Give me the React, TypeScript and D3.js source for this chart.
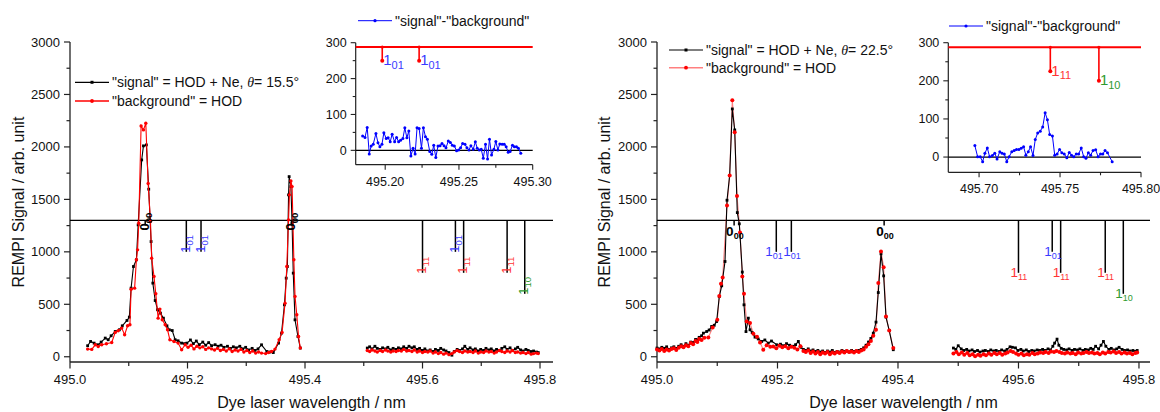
import React from "react";
import * as d3 from "d3";

type Pt = [number, number];

const FONT = "'Liberation Sans', Arial, Helvetica, sans-serif";

// ---------------- Left panel (theta = 15.5°) ----------------
const leftSignalPeaks: Pt[] = [[495.030,105],[495.035,146],[495.041,130],[495.048,114],[495.053,140],[495.060,178],[495.065,162],[495.070,200],[495.077,241],[495.084,257],[495.089,295],[495.097,346],[495.101,378],[495.104,654],[495.108,860],[495.113,924],[495.116,1257],[495.122,1876],[495.125,2010],[495.130,2019],[495.134,1597],[495.138,1098],[495.141,702],[495.145,536],[495.149,448],[495.154,416],[495.159,368],[495.165,295],[495.169,257],[495.174,250],[495.179,162],[495.184,152],[495.190,130],[495.195,125],[495.199,130],[495.205,160],[495.210,125],[495.215,150],[495.220,115],[495.226,140],[495.231,110],[495.236,135],[495.241,105],[495.247,115],[495.252,100],[495.257,110],[495.262,90],[495.268,100],[495.273,80],[495.278,95],[495.283,85],[495.289,100],[495.294,75],[495.299,90],[495.304,65],[495.310,80],[495.315,60],[495.320,75],[495.326,114],[495.335,50],[495.340,45],[495.346,40],[495.355,130],[495.360,225],[495.365,495],[495.368,749],[495.370,860],[495.372,1543],[495.373,1717],[495.376,1622],[495.378,1273],[495.380,797],[495.383,352],[495.388,193],[495.392,83]];
const leftSignalTail: Pt[] = [[495.506,83],[495.510,95],[495.514,75],[495.519,100],[495.523,80],[495.528,70],[495.532,85],[495.537,75],[495.541,90],[495.546,65],[495.550,80],[495.555,70],[495.559,85],[495.564,75],[495.568,95],[495.573,80],[495.577,100],[495.582,85],[495.586,95],[495.591,70],[495.595,80],[495.600,60],[495.604,75],[495.609,55],[495.613,65],[495.618,50],[495.622,70],[495.627,60],[495.631,80],[495.636,65],[495.640,55],[495.645,40],[495.650,15],[495.654,50],[495.659,70],[495.663,60],[495.668,75],[495.672,100],[495.677,70],[495.681,85],[495.686,65],[495.690,75],[495.695,55],[495.699,70],[495.704,60],[495.708,80],[495.713,65],[495.717,75],[495.722,55],[495.726,70],[495.731,60],[495.735,80],[495.740,95],[495.744,70],[495.749,85],[495.753,60],[495.758,75],[495.762,90],[495.767,65],[495.771,55],[495.776,70],[495.780,60],[495.785,50],[495.789,55],[495.794,45],[495.797,40]];
const leftBackgroundPeaks: Pt[] = [[495.030,73],[495.037,70],[495.043,114],[495.048,98],[495.054,114],[495.062,124],[495.071,136],[495.077,232],[495.082,248],[495.088,273],[495.093,210],[495.098,295],[495.102,305],[495.104,644],[495.110,654],[495.113,924],[495.115,1019],[495.117,1273],[495.121,2200],[495.125,2162],[495.129,2225],[495.133,1651],[495.137,1289],[495.139,940],[495.143,765],[495.146,600],[495.150,368],[495.153,454],[495.157,352],[495.162,305],[495.166,257],[495.170,162],[495.177,146],[495.184,130],[495.190,67],[495.196,114],[495.201,90],[495.206,110],[495.211,75],[495.216,100],[495.221,85],[495.226,95],[495.231,70],[495.236,85],[495.241,75],[495.246,65],[495.251,80],[495.256,60],[495.261,70],[495.266,55],[495.271,75],[495.276,50],[495.281,65],[495.286,55],[495.291,70],[495.296,45],[495.301,60],[495.306,40],[495.311,55],[495.316,35],[495.321,45],[495.326,35],[495.333,30],[495.338,40],[495.343,50],[495.349,73],[495.356,162],[495.361,232],[495.366,511],[495.369,860],[495.372,1305],[495.3735,1543],[495.376,1676],[495.378,1622],[495.381,924],[495.383,575],[495.386,400],[495.389,193],[495.392,83]];
const leftBackgroundTail: Pt[] = [[495.506,60],[495.510,50],[495.514,65],[495.519,55],[495.523,45],[495.528,60],[495.532,50],[495.537,65],[495.541,55],[495.546,45],[495.550,55],[495.555,50],[495.559,60],[495.564,55],[495.568,70],[495.573,55],[495.577,60],[495.582,50],[495.586,65],[495.591,45],[495.595,55],[495.600,40],[495.604,50],[495.609,45],[495.613,55],[495.618,35],[495.622,45],[495.627,30],[495.631,40],[495.636,25],[495.640,35],[495.645,20],[495.650,30],[495.654,45],[495.659,60],[495.663,50],[495.668,40],[495.672,55],[495.677,45],[495.681,50],[495.686,40],[495.690,55],[495.695,35],[495.699,45],[495.704,40],[495.708,55],[495.713,45],[495.717,50],[495.722,35],[495.726,45],[495.731,60],[495.735,50],[495.740,40],[495.744,55],[495.749,45],[495.753,60],[495.758,40],[495.762,45],[495.767,35],[495.771,40],[495.776,30],[495.780,40],[495.785,25],[495.789,30],[495.794,35],[495.797,30]];
const leftDifference: Pt[] = [[495.1847,40],[495.1863,36],[495.1878,64],[495.1892,-10],[495.1905,12],[495.1919,17],[495.1937,47],[495.1951,21],[495.1964,10],[495.1978,17],[495.1991,49],[495.2007,33],[495.2020,35],[495.2034,24],[495.2047,45],[495.2064,24],[495.2077,36],[495.2091,24],[495.2104,28],[495.2120,33],[495.2133,63],[495.2147,35],[495.2160,54],[495.2174,-16],[495.2189,6],[495.2203,-10],[495.2216,63],[495.2230,61],[495.2246,6],[495.2259,63],[495.2273,38],[495.2286,31],[495.2302,-3],[495.2316,-11],[495.2329,14],[495.2343,-20],[495.2358,12],[495.2372,13],[495.2385,19],[495.2399,13],[495.2412,7],[495.2428,26],[495.2442,22],[495.2455,14],[495.2469,12],[495.2484,-1],[495.2498,1],[495.2511,7],[495.2525,19],[495.2541,17],[495.2554,7],[495.2568,1],[495.2581,13],[495.2597,3],[495.2611,24],[495.2624,6],[495.2638,1],[495.2651,3],[495.2665,-22],[495.2680,17],[495.2694,-24],[495.2707,31],[495.2721,-13],[495.2737,3],[495.2750,25],[495.2764,1],[495.2777,18],[495.2793,17],[495.2807,17],[495.2820,10],[495.2834,-5],[495.2847,-3],[495.2863,14],[495.2876,10],[495.2890,10],[495.2903,6],[495.2919,-8]];

// ---------------- Right panel (theta = 22.5°) ----------------
const rightSignalPeaks: Pt[] = [[495.000,83],[495.004,75],[495.008,90],[495.012,80],[495.016,95],[495.020,70],[495.024,85],[495.028,95],[495.032,80],[495.036,100],[495.040,115],[495.044,100],[495.048,125],[495.052,110],[495.056,140],[495.060,135],[495.064,165],[495.067,160],[495.070,185],[495.074,200],[495.077,225],[495.0825,241],[495.0865,255],[495.0907,289],[495.095,300],[495.099,336],[495.1034,574],[495.1074,676],[495.1129,908],[495.1162,1492],[495.1206,1727],[495.125,2362],[495.129,2162],[495.1333,1374],[495.1366,1267],[495.1416,807],[495.1444,495],[495.1477,240],[495.1516,368],[495.1544,257],[495.158,230],[495.1627,187],[495.168,170],[495.1738,146],[495.179,160],[495.1847,130],[495.190,150],[495.1987,114],[495.205,120],[495.210,105],[495.215,125],[495.220,110],[495.225,100],[495.230,115],[495.2346,146],[495.239,90],[495.243,70],[495.247,60],[495.251,75],[495.255,55],[495.259,65],[495.263,50],[495.267,60],[495.271,45],[495.275,55],[495.279,40],[495.283,55],[495.287,45],[495.291,60],[495.295,40],[495.299,50],[495.303,45],[495.307,60],[495.311,50],[495.315,55],[495.319,45],[495.323,60],[495.327,50],[495.331,55],[495.335,60],[495.339,70],[495.343,85],[495.347,110],[495.351,140],[495.355,175],[495.359,225],[495.3635,330],[495.3673,612],[495.3718,981],[495.3762,771],[495.3801,378],[495.3855,250],[495.3922,67]];
const rightSignalTail: Pt[] = [[495.492,83],[495.496,70],[495.500,105],[495.505,75],[495.509,60],[495.514,70],[495.518,55],[495.523,65],[495.527,50],[495.532,60],[495.536,45],[495.541,55],[495.545,60],[495.550,50],[495.554,65],[495.559,55],[495.563,60],[495.568,50],[495.572,65],[495.577,55],[495.581,70],[495.586,95],[495.590,90],[495.595,85],[495.599,60],[495.604,70],[495.608,55],[495.613,65],[495.617,50],[495.622,60],[495.626,55],[495.631,65],[495.635,60],[495.640,70],[495.644,60],[495.649,75],[495.653,65],[495.657,100],[495.660,130],[495.664,168],[495.667,110],[495.671,80],[495.675,70],[495.680,65],[495.684,75],[495.689,60],[495.693,70],[495.698,65],[495.702,75],[495.707,60],[495.711,70],[495.716,65],[495.720,80],[495.724,70],[495.728,100],[495.733,75],[495.737,110],[495.741,146],[495.745,100],[495.750,70],[495.754,80],[495.759,65],[495.763,75],[495.767,90],[495.772,70],[495.776,60],[495.781,65],[495.785,55],[495.790,60],[495.794,50],[495.797,60]];
const rightBackgroundPeaks: Pt[] = [[495.000,70],[495.004,60],[495.008,75],[495.012,55],[495.016,70],[495.020,60],[495.024,75],[495.028,80],[495.032,65],[495.036,85],[495.040,100],[495.044,90],[495.048,110],[495.052,100],[495.056,130],[495.060,120],[495.064,150],[495.067,140],[495.070,170],[495.074,160],[495.0785,180],[495.0852,184],[495.0924,279],[495.1001,352],[495.1034,578],[495.1062,696],[495.109,755],[495.1162,1441],[495.1206,1727],[495.125,2445],[495.129,2140],[495.1328,1533],[495.1378,1184],[495.1416,765],[495.1444,600],[495.1488,336],[495.1544,321],[495.160,219],[495.166,190],[495.171,137],[495.1764,67],[495.182,110],[495.188,95],[495.193,98],[495.198,80],[495.203,105],[495.208,90],[495.213,100],[495.218,80],[495.223,95],[495.228,85],[495.233,70],[495.238,100],[495.243,55],[495.247,45],[495.251,60],[495.255,35],[495.259,50],[495.263,30],[495.267,45],[495.271,25],[495.275,40],[495.279,30],[495.283,45],[495.287,25],[495.291,40],[495.295,30],[495.299,45],[495.303,35],[495.307,50],[495.311,40],[495.315,55],[495.319,45],[495.323,50],[495.327,40],[495.331,55],[495.335,45],[495.339,60],[495.343,70],[495.347,95],[495.351,120],[495.355,150],[495.359,200],[495.3635,257],[495.3673,702],[495.3718,1003],[495.3762,854],[495.3801,384],[495.3855,250],[495.3922,83]];
const rightBackgroundTail: Pt[] = [[495.492,30],[495.497,45],[495.501,25],[495.506,40],[495.510,20],[495.515,35],[495.519,15],[495.524,25],[495.528,5],[495.533,20],[495.537,10],[495.542,25],[495.546,15],[495.551,30],[495.555,20],[495.560,35],[495.564,25],[495.569,35],[495.573,20],[495.578,30],[495.582,40],[495.587,55],[495.591,45],[495.596,30],[495.600,20],[495.605,30],[495.609,15],[495.614,25],[495.618,20],[495.623,35],[495.627,25],[495.632,30],[495.636,40],[495.641,35],[495.645,45],[495.650,35],[495.654,50],[495.659,45],[495.663,55],[495.668,45],[495.672,35],[495.677,30],[495.681,40],[495.686,30],[495.690,35],[495.695,25],[495.699,40],[495.704,30],[495.708,35],[495.713,45],[495.717,35],[495.722,40],[495.726,30],[495.731,35],[495.735,25],[495.740,40],[495.744,30],[495.749,45],[495.753,40],[495.758,50],[495.762,35],[495.767,45],[495.771,30],[495.776,40],[495.780,30],[495.785,35],[495.789,25],[495.794,35],[495.797,40]];
const rightDifference: Pt[] = [[495.6974,30],[495.6991,1],[495.7007,1],[495.7022,-12],[495.7036,10],[495.7051,24],[495.7065,1],[495.7082,4],[495.7097,10],[495.7111,-5],[495.7128,14],[495.7142,10],[495.7156,8],[495.7171,-12],[495.7186,1],[495.7202,14],[495.7217,17],[495.7231,20],[495.7246,20],[495.7260,23],[495.7275,27],[495.7289,5],[495.7304,14],[495.7318,27],[495.7333,4],[495.7347,46],[495.7362,63],[495.7378,68],[495.7393,79],[495.7408,116],[495.7422,98],[495.7436,59],[495.7453,55],[495.7467,5],[495.7482,8],[495.7497,20],[495.7511,11],[495.7526,8],[495.7542,-2],[495.7557,12],[495.7571,5],[495.7585,1],[495.7600,8],[495.7615,8],[495.7631,24],[495.7646,1],[495.7660,-3],[495.7675,11],[495.7689,5],[495.7704,17],[495.7720,19],[495.7735,1],[495.7750,8],[495.7764,8],[495.7778,17],[495.7793,11],[495.7822,-12]];

// ---------------- Assignment sticks ----------------
const stickBaseline = 1300;
const stickWavelengths = [495.128, 495.377, 495.198, 495.223, 495.656, 495.600, 495.670, 495.744, 495.774];
const stickDepths = [1250, 1250, 1000, 1000, 1000, 800, 800, 800, 600];
const stickKinds = ["000", "000", "101", "101", "101", "111", "111", "111", "110"];

const insetBaseline = 288;
const leftInsetWavelengths = [495.198, 495.223];
const leftInsetDepths = [250, 250];
const leftInsetKinds = ["101", "101"];
const rightInsetWavelengths = [495.744, 495.774];
const rightInsetDepths = [225, 200];
const rightInsetKinds = ["111", "110"];

const mainYTicks = [0, 500, 1000, 1500, 2000, 2500, 3000];
const mainXTicks = [495.0, 495.2, 495.4, 495.6, 495.8];
const insetYTicks = [0, 100, 200, 300];
const leftInsetXTicks = [495.2, 495.25, 495.3];
const rightInsetXTicks = [495.7, 495.75, 495.8];

const kindColor: Record<string, string> = { "000": "#000000", "101": "#3a3aff", "111": "#ff3434", "110": "#2f9a2f" };
const kindMain: Record<string, string> = { "000": "0", "101": "1", "111": "1", "110": "1" };
const kindSub: Record<string, string> = { "000": "00", "101": "01", "111": "11", "110": "10" };

const mids = (t: number[]) => t.slice(0, -1).map((v, i) => (v + t[i + 1]) / 2);

type MainProps = {
  x0: number; x1: number; xMax: number;
  signal: Pt[][]; background: Pt[][];
  theta: string; legX: number; legY: number; legGap: number;
  rotated: boolean; redOnTop: boolean; redLineOpacity: number; redR: number;
  titleX: number;
};

function MainPanel(p: MainProps) {
  const x = d3.scaleLinear().domain([495.0, p.xMax]).range([p.x0, p.x1]);
  const y = d3.scaleLinear().domain([-50, 3000]).range([362, 42]);
  const line = d3.line<Pt>().x((d) => x(d[0])).y((d) => y(d[1]));
  const axisY = y(-50);

  const sig = (
    <g key="sig">
      {p.signal.map((s, i) => <path key={i} d={line(s) || ""} fill="none" stroke="#000" strokeWidth={1.1} />)}
      {p.signal.flat().map((d, i) => <rect key={i} x={x(d[0]) - 1.4} y={y(d[1]) - 1.4} width={2.8} height={2.8} fill="#000" />)}
    </g>
  );
  const bgLines = (
    <g key="bgl">
      {p.background.map((s, i) => <path key={i} d={line(s) || ""} fill="none" stroke="#ff0000" strokeOpacity={p.redLineOpacity} strokeWidth={1.1} />)}
    </g>
  );
  const bgDots = (
    <g key="bgd">
      {p.background.flat().map((d, i) => <circle key={i} cx={x(d[0])} cy={y(d[1])} r={p.redR} fill="#ff0000" />)}
    </g>
  );

  return (
    <g fontFamily={FONT}>
      {/* axes */}
      <line x1={p.x0} x2={p.x0} y1={y(3000)} y2={axisY} stroke="#222" strokeWidth={1.3} />
      <line x1={p.x0} x2={p.x1} y1={axisY} y2={axisY} stroke="#222" strokeWidth={1.3} />
      {mainYTicks.map((t) => (
        <g key={"y" + t}>
          <line x1={p.x0 - 6} x2={p.x0} y1={y(t)} y2={y(t)} stroke="#222" strokeWidth={1.2} />
          <text x={p.x0 - 10} y={y(t)} dy="0.35em" textAnchor="end" fontSize={13} fill="#111">{t}</text>
        </g>
      ))}
      {mids(mainYTicks).map((t) => <line key={"ym" + t} x1={p.x0 - 3.5} x2={p.x0} y1={y(t)} y2={y(t)} stroke="#222" strokeWidth={1.2} />)}
      {mainXTicks.map((t) => (
        <g key={"x" + t}>
          <line x1={x(t)} x2={x(t)} y1={axisY} y2={axisY + 6.5} stroke="#222" strokeWidth={1.2} />
          <text x={x(t)} y={383.5} textAnchor="middle" fontSize={13} fill="#111">{t.toFixed(1)}</text>
        </g>
      ))}
      {mids(mainXTicks).map((t) => <line key={"xm" + t} x1={x(t)} x2={x(t)} y1={axisY} y2={axisY + 4} stroke="#222" strokeWidth={1.2} />)}
      <text transform={`translate(${p.titleX},${(y(3000) + axisY) / 2}) rotate(-90)`} textAnchor="middle" fontSize={16} fill="#111">REMPI Signal / arb. unit</text>
      <text x={(p.x0 + p.x1) / 2} y={408} textAnchor="middle" fontSize={16} fill="#111">Dye laser wavelength / nm</text>

      {/* assignment sticks */}
      <line x1={p.x0} x2={p.x1} y1={y(stickBaseline)} y2={y(stickBaseline)} stroke="#000" strokeWidth={1.4} />
      {stickWavelengths.map((w, i) => (
        <line key={"st" + i} x1={x(w)} x2={x(w)} y1={y(stickBaseline)} y2={y(stickDepths[i])} stroke="#000" strokeWidth={1.5} />
      ))}

      {/* data */}
      {p.redOnTop ? [sig, bgLines, bgDots] : [bgLines, sig, bgDots]}

      {/* stick labels */}
      {stickWavelengths.map((w, i) => {
        const k = stickKinds[i];
        const bold = k === "000";
        const yb = y(stickDepths[i]);
        const px = x(w);
        if (p.rotated) {
          return (
            <text key={"lb" + i} transform={`translate(${px + 3.5},${yb + (bold ? 5 : 1)}) rotate(-90)`} fill={kindColor[k]} fontSize={13} fontWeight={bold ? "bold" : "normal"}>
              {kindMain[k]}<tspan fontSize={9.5} dy={3}>{kindSub[k]}</tspan>
            </text>
          );
        }
        const crowded = stickWavelengths.some((w2, j) => j !== i && stickDepths[j] === stickDepths[i] && x(w2) > px && x(w2) - px < 18);
        return (
          <text key={"lb" + i} x={px - 8 - (crowded ? 3 : 0)} y={yb + (bold ? 10 : 4)} fill={kindColor[k]} fontSize={13.5} fontWeight={bold ? "bold" : "normal"}>
            {kindMain[k]}<tspan fontSize={9} dy={3}>{kindSub[k]}</tspan>
          </text>
        );
      })}

      {/* legend */}
      <g>
        <line x1={p.legX} x2={p.legX + 34} y1={p.legY} y2={p.legY} stroke="#000" strokeWidth={1.2} />
        <rect x={p.legX + 17 - 1.5} y={p.legY - 1.5} width={3} height={3} fill="#000" />
        <text x={p.legX + 37} y={p.legY + 5} fontSize={14} fill="#111">
          "signal" = HOD + Ne, <tspan fontFamily="'Liberation Serif', 'DejaVu Serif', serif" fontStyle="italic">θ</tspan>= {p.theta}°
        </text>
        <line x1={p.legX} x2={p.legX + 34} y1={p.legY + p.legGap} y2={p.legY + p.legGap} stroke="#ff0000" strokeOpacity={p.redLineOpacity < 1 ? 0.5 : 1} strokeWidth={1.4} />
        <circle cx={p.legX + 17} cy={p.legY + p.legGap} r={1.9} fill="#ff0000" />
        <text x={p.legX + 37} y={p.legY + p.legGap + 5} fontSize={14} fill="#111">"background" = HOD</text>
      </g>
    </g>
  );
}

type InsetProps = {
  x0: number; x1: number; xMin: number; xMax: number; yBottom: number;
  data: Pt[]; xTicks: number[]; wls: number[]; depths: number[]; kinds: string[];
  legX: number; legY: number; labelBase: number;
};

function Inset(p: InsetProps) {
  const x = d3.scaleLinear().domain([p.xMin, p.xMax]).range([p.x0, p.x1]);
  const y = d3.scaleLinear().domain([-40, 300]).range([p.yBottom, 42.7]);
  const line = d3.line<Pt>().x((d) => x(d[0])).y((d) => y(d[1]));
  return (
    <g fontFamily={FONT}>
      <line x1={p.x0} x2={p.x0} y1={y(300)} y2={p.yBottom} stroke="#222" strokeWidth={1.2} />
      <line x1={p.x0} x2={p.x1} y1={p.yBottom} y2={p.yBottom} stroke="#222" strokeWidth={1.2} />
      {insetYTicks.map((t) => (
        <g key={"iy" + t}>
          <line x1={p.x0 - 5} x2={p.x0} y1={y(t)} y2={y(t)} stroke="#222" strokeWidth={1.1} />
          <text x={p.x0 - 9} y={y(t)} dy="0.35em" textAnchor="end" fontSize={12.5} fill="#111">{t}</text>
        </g>
      ))}
      {mids(insetYTicks).map((t) => <line key={"iym" + t} x1={p.x0 - 3} x2={p.x0} y1={y(t)} y2={y(t)} stroke="#222" strokeWidth={1.1} />)}
      {p.xTicks.map((t) => (
        <g key={"ix" + t}>
          <line x1={x(t)} x2={x(t)} y1={p.yBottom} y2={p.yBottom + 5} stroke="#222" strokeWidth={1.1} />
          <text x={x(t)} y={p.labelBase} textAnchor="middle" fontSize={12.5} fill="#111">{t.toFixed(2)}</text>
        </g>
      ))}
      {mids(p.xTicks).map((t) => <line key={"ixm" + t} x1={x(t)} x2={x(t)} y1={p.yBottom} y2={p.yBottom + 3} stroke="#222" strokeWidth={1.1} />)}

      <line x1={p.x0} x2={p.x1} y1={y(0)} y2={y(0)} stroke="#000" strokeWidth={1.2} />
      <line x1={p.x0} x2={p.x1} y1={y(insetBaseline)} y2={y(insetBaseline)} stroke="#ff0000" strokeWidth={2.2} />
      {p.wls.map((w, i) => (
        <g key={"m" + i}>
          <line x1={x(w)} x2={x(w)} y1={y(insetBaseline)} y2={y(p.depths[i])} stroke="#ff0000" strokeWidth={1.6} />
          <circle cx={x(w)} cy={y(insetBaseline)} r={1.6} fill="#ff0000" />
          <circle cx={x(w)} cy={y(p.depths[i])} r={2} fill="#ff0000" />
          <text x={x(w) + 1} y={y(p.depths[i]) + 4.5} fontSize={15} fill={kindColor[p.kinds[i]]}>
            {kindMain[p.kinds[i]]}<tspan fontSize={11} dy={3.5}>{kindSub[p.kinds[i]]}</tspan>
          </text>
        </g>
      ))}

      <path d={line(p.data) || ""} fill="none" stroke="#0000ff" strokeWidth={1} />
      {p.data.map((d, i) => <circle key={i} cx={x(d[0])} cy={y(d[1])} r={1.5} fill="#0000ff" />)}

      <line x1={p.legX} x2={p.legX + 34} y1={p.legY} y2={p.legY} stroke="#0000ff" strokeWidth={1} />
      <circle cx={p.legX + 17} cy={p.legY} r={1.6} fill="#0000ff" />
      <text x={p.legX + 37} y={p.legY + 5} fontSize={14} fill="#111">"signal"-"background"</text>
    </g>
  );
}

export default function App() {
  return (
    <svg width={1160} height={412} viewBox="0 0 1160 412" style={{ position: "absolute", left: 0, top: 0, background: "#fff" }}>
      <rect width={1160} height={412} fill="#fff" />
      <MainPanel x0={70} x1={553} xMax={495.8221} signal={[leftSignalPeaks, leftSignalTail]} background={[leftBackgroundPeaks, leftBackgroundTail]}
        theta="15.5" legX={75} legY={82.3} legGap={18.7} rotated={true} redOnTop={true} redLineOpacity={1} redR={1.7} titleX={24} />
      <MainPanel x0={657} x1={1150} xMax={495.8183} signal={[rightSignalPeaks, rightSignalTail]} background={[rightBackgroundPeaks, rightBackgroundTail]}
        theta="22.5" legX={669} legY={50} legGap={17.7} rotated={false} redOnTop={false} redLineOpacity={0.5} redR={2} titleX={610} />
      <Inset x0={355.7} x1={532.7} xMin={495.18} xMax={495.30} yBottom={164.7} data={leftDifference} xTicks={leftInsetXTicks}
        wls={leftInsetWavelengths} depths={leftInsetDepths} kinds={leftInsetKinds} legX={358} legY={20.7} labelBase={185.5} />
      <Inset x0={948.3} x1={1141} xMin={495.681} xMax={495.80} yBottom={172.3} data={rightDifference} xTicks={rightInsetXTicks}
        wls={rightInsetWavelengths} depths={rightInsetDepths} kinds={rightInsetKinds} legX={949} legY={26} labelBase={193} />
    </svg>
  );
}
